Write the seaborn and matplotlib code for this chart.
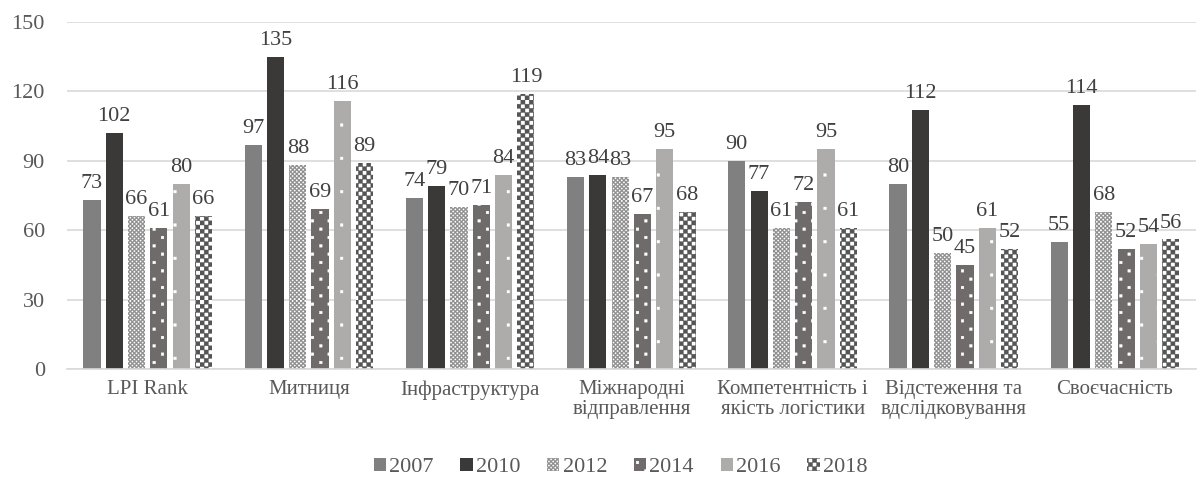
import matplotlib
matplotlib.use("Agg")
import matplotlib.pyplot as plt
import matplotlib.hatch as mhatch
from matplotlib.path import Path
from matplotlib.patches import Patch
import seaborn as sns
import pandas as pd

categories = ["LPI Rank", "Митниця", "Інфраструктура", "Міжнародні\nвідправлення",
              "Компетентність і\nякість логістики", "Відстеження та\nвдслідковування",
              "Своєчасність"]
years = ["2007", "2010", "2012", "2014", "2016", "2018"]
v2007 = [73, 97, 74, 83, 90, 80, 55]
v2010 = [102, 135, 79, 84, 77, 112, 114]
v2012 = [66, 88, 70, 83, 61, 50, 68]
v2014 = [61, 69, 71, 67, 72, 45, 52]
v2016 = [80, 116, 84, 95, 95, 61, 54]
v2018 = [66, 89, 119, 68, 61, 52, 56]
yticks = [0, 30, 60, 90, 120, 150]


def _square(vertices, codes, k, x0, y0, s):
    vertices[k:k + 5] = [(x0, y0), (x0 + s, y0), (x0 + s, y0 + s),
                         (x0, y0 + s), (x0, y0)]
    codes[k] = Path.MOVETO
    codes[k + 1:k + 4] = Path.LINETO
    codes[k + 4] = Path.CLOSEPOLY


class CheckerHatch(mhatch.HatchPatternBase):
    """Filled checkerboard; each 'c' adds `density` squares per unit."""

    def __init__(self, hatch, density):
        n = hatch.count("c") * density
        self.n = n + (n % 2)
        self.num_vertices = 5 * (self.n * self.n // 2) if self.n else 0

    def set_vertices_and_codes(self, vertices, codes):
        s = 1.0 / self.n
        k = 0
        for i in range(self.n):
            for j in range(self.n):
                if (i + j) % 2 == 0:
                    _square(vertices, codes, k, i * s, j * s, s)
                    k += 5


class SparseDotHatch(mhatch.HatchPatternBase):
    """Small square dots on a staggered lattice; each 'd' adds `density` rows."""

    def __init__(self, hatch, density):
        n = hatch.count("d") * density
        self.n = n + (n % 2)
        self.num_vertices = 5 * (self.n * self.n // 2) if self.n else 0

    def set_vertices_and_codes(self, vertices, codes):
        s = 1.0 / self.n
        d = 0.026
        k = 0
        for i in range(self.n):
            for j in range(self.n):
                if (i + j) % 2 == 0:
                    _square(vertices, codes, k, (i + 0.5) * s - d / 2,
                            (j + 0.5) * s - d / 2, d)
                    k += 5


mhatch._hatch_types.extend([CheckerHatch, SparseDotHatch])

series = [v2007, v2010, v2012, v2014, v2016, v2018]
rows = []
for y, vals in zip(years, series):
    for c, v in zip(categories, vals):
        rows.append({"cat": c, "year": y, "val": v})
df = pd.DataFrame(rows)

sns.set_theme(style="white")
plt.rcParams["font.family"] = ["Liberation Serif", "DejaVu Serif"]
plt.rcParams["hatch.linewidth"] = 0.3

# face, hatch colour, hatch pattern
styles = {
    "2007": ("#808080", "#808080", None),
    "2010": ("#3b3838", "#3b3838", None),
    "2012": ("#ffffff", "#8c8c8c", "cccccccc"),
    "2014": ("#6f6b6b", "#ffffff", "dd"),
    "2016": ("#aeabab", "#ffffff", "d"),
    "2018": ("#ffffff", "#555555", "cccc"),
}

fig = plt.figure(figsize=(11.98, 4.78), dpi=100)
ax = fig.add_axes([0.056, 0.228, 0.942, 0.726])
sns.barplot(data=df, x="cat", y="val", hue="year", order=categories,
            hue_order=years, width=0.83, gap=0.23, ax=ax, legend=False)

for cont, y in zip(ax.containers, years):
    face, hcol, hatch = styles[y]
    for p in cont:
        p.set_facecolor(face)
        p.set_edgecolor(hcol)
        p.set_linewidth(0)
        if hatch:
            p.set_hatch(hatch)
    ax.bar_label(cont, labels=[str(int(v)) for v in cont.datavalues],
                 padding=5, fontsize=16, color="#404040")

ax.set_ylim(0, 150)
ax.set_yticks(yticks)
ax.set_xlim(-0.5, len(categories) - 0.5)
ax.yaxis.grid(True, color="#d9d9d9", linewidth=1.2)
ax.set_axisbelow(True)
for s in ["top", "right", "left"]:
    ax.spines[s].set_visible(False)
ax.spines["bottom"].set_color("#d9d9d9")
ax.spines["bottom"].set_linewidth(1.2)
ax.tick_params(axis="both", length=0, colors="#595959")
ax.tick_params(axis="y", labelsize=16, pad=16)
ax.tick_params(axis="x", labelsize=15, pad=8)
for t in ax.get_xticklabels():
    t.set_linespacing(1.05)
ax.set_xlabel("")
ax.set_ylabel("")

handles = []
for y in years:
    face, hcol, hatch = styles[y]
    handles.append(Patch(facecolor=face, edgecolor=hcol, linewidth=0, hatch=hatch, label=y))
fig.legend(handles=handles, loc="center", bbox_to_anchor=(0.518, 0.022), ncol=6,
           frameon=False, fontsize=16, handlelength=0.55, handleheight=0.55,
           handletextpad=0.15, columnspacing=1.2, labelcolor="#595959")

fig.savefig("out.png", dpi=100)
